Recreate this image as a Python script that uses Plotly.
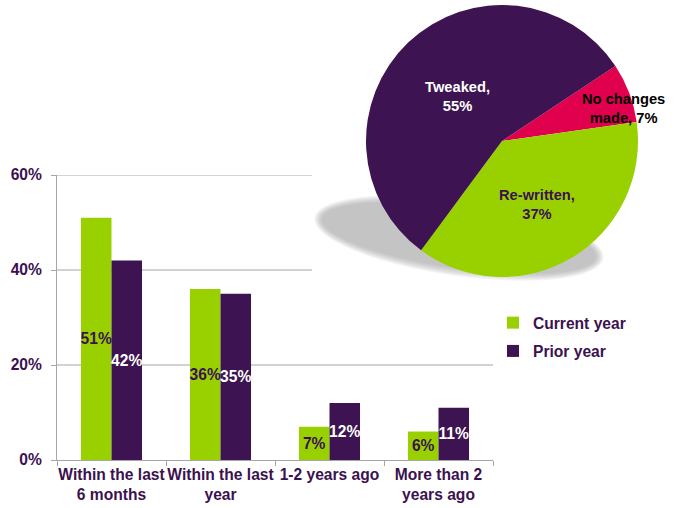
import math
import textwrap
import plotly.graph_objects as go

# --- data -------------------------------------------------------------
categories = ["Within the last<br>6 months", "Within the last<br>year",
              "1-2 years ago", "More than 2<br>years ago"]
current_year = [51, 36, 7, 6]
prior_year = [42, 35, 12, 11]
y_ticks = [0, 20, 40, 60]

pie_labels = ["No changes made", "Re-written", "Tweaked"]
pie_values = [7, 37, 55]

# --- styling ------------------------------------------------------------
W, H = 678, 508
GREEN = "#99D100"
PURPLE = "#3D1451"
RED = "#E0004D"
TEXT = "#3B1250"
GRID = "#A6A6A6"
FONT = "Liberation Sans, Arial, sans-serif"


def px(x):
    return x / W


def py(y):
    return 1 - y / H


def ellipse_path(cx, cy, a, b, tilt_deg, steps=72):
    """Closed SVG path (paper coords) of a tilted ellipse given in pixels."""
    t = math.radians(tilt_deg)
    pts = []
    for k in range(steps):
        u = 2 * math.pi * k / steps
        ex, ey = a * math.cos(u), b * math.sin(u)
        x = cx + ex * math.cos(t) - ey * math.sin(t)
        y = cy + ex * math.sin(t) + ey * math.cos(t)
        pts.append(f"{px(x):.5f},{py(y):.5f}")
    return "M" + " L".join(pts) + " Z"


fig = go.Figure()

fig.add_trace(go.Bar(
    name="Current year", x=categories, y=current_year, legendgroup="cur",
    marker=dict(color=GREEN, line=dict(width=0)),
    texttemplate="%{y}%", textposition="inside", insidetextanchor="middle",
    textangle=0, constraintext="none",
    insidetextfont=dict(color=TEXT, size=15.6, family=FONT, weight="bold"),
))
fig.add_trace(go.Bar(
    name="Prior year", x=categories, y=prior_year, legendgroup="prior",
    marker=dict(color=PURPLE, line=dict(width=0)),
    texttemplate="%{y}%", textposition="inside", insidetextanchor="middle",
    textangle=0, constraintext="none",
    insidetextfont=dict(color="white", size=15.6, family=FONT, weight="bold"),
))

# pie in the upper right
fig.add_trace(go.Pie(
    labels=pie_labels, values=pie_values, sort=False,
    direction="clockwise", rotation=56.5,
    marker=dict(colors=[RED, GREEN, PURPLE], line=dict(width=0)),
    textinfo="none", showlegend=False, automargin=False,
    domain=dict(x=[px(366), px(638)], y=[py(277), py(5)]),
))

# pie slice labels
pie_label_pos = {"Tweaked": (457, 96, "white"),
                 "Re-written": (537, 205, TEXT),
                 "No changes made": (623, 108, "black")}
for lab, val in zip(pie_labels, pie_values):
    x, y, col = pie_label_pos[lab]
    txt = "<br>".join(textwrap.wrap(f"{lab}, {val}%", 11))
    fig.add_annotation(text=txt, x=px(x), y=py(y), xref="paper", yref="paper",
                       showarrow=False, xanchor="center", yanchor="middle",
                       font=dict(color=col, size=14.7, family=FONT, weight="bold"))

# soft, tilted drop shadow under the pie
shapes = []
for d in range(-4, 5):
    shapes.append(dict(type="path", xref="paper", yref="paper",
                       path=ellipse_path(459, 238, 142 + d, 34 + d, 8),
                       fillcolor="#A0A0A0", opacity=0.09, line=dict(width=0),
                       layer="below"))

# horizontal gridlines (upper ones stop where the pie panel begins)
for v, xe in [(20, 493), (40, 312), (60, 312)]:
    shapes.append(dict(type="line", xref="paper", yref="y",
                       x0=px(57), x1=px(xe), y0=v, y1=v,
                       line=dict(color=GRID, width=1), layer="below"))

fig.update_layout(
    width=W, height=H,
    margin=dict(l=0, r=0, t=0, b=0, autoexpand=False),
    paper_bgcolor="white", plot_bgcolor="white",
    font=dict(family=FONT, size=15.6, color=TEXT, weight="bold"),
    barmode="group", bargap=0.44, bargroupgap=0,
    shapes=shapes,
    showlegend=True,
    legend=dict(x=px(493), y=py(306), xanchor="left", yanchor="top",
                traceorder="grouped", tracegroupgap=5,
                bgcolor="rgba(0,0,0,0)", font=dict(size=15.6, color=TEXT)),
    xaxis=dict(domain=[px(57), px(493)], range=[-0.5, 3.5],
               showline=True, linecolor=GRID, linewidth=1,
               ticks="outside", tickson="boundaries", ticklen=5, tickcolor=GRID,
               showgrid=False, tickangle=0, automargin=False,
               tickfont=dict(size=15.6, color=TEXT)),
    yaxis=dict(domain=[py(460), py(175)], range=[0, 60],
               tickmode="array", tickvals=y_ticks,
               ticktext=[f"{v}%" for v in y_ticks],
               showline=True, linecolor=GRID, linewidth=1,
               ticks="outside", ticklen=5, tickcolor=GRID,
               showgrid=False, zeroline=False, ticklabelstandoff=6,
               automargin=False, tickfont=dict(size=15.6, color=TEXT)),
)

fig.write_html("out.html")
